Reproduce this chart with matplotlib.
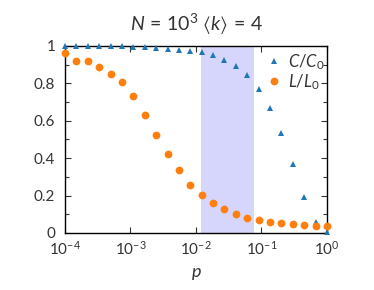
import matplotlib
matplotlib.use("Agg")
import matplotlib.pyplot as plt
import numpy as np
from matplotlib.ticker import FixedLocator, FuncFormatter, NullLocator

plt.rcParams["font.family"] = ["Lato", "DejaVu Sans"]
plt.rcParams["mathtext.fontset"] = "custom"
plt.rcParams["mathtext.rm"] = "Lato"
plt.rcParams["mathtext.it"] = "Lato:italic"
plt.rcParams["mathtext.sf"] = "Lato"
plt.rcParams["mathtext.fallback"] = "stixsans"

# 24 log-spaced values of p between 1e-4 and 1
p = np.logspace(-4, 0, 24)

# C/C0 (triangles)
c_ratio = [1.0, 1.0, 1.0, 1.0, 1.0, 1.0, 0.996, 0.995, 0.99, 0.986, 0.978, 0.974,
           0.966, 0.954, 0.927, 0.895, 0.846, 0.772, 0.667, 0.533, 0.371, 0.193,
           0.06, 0.004]
# L/L0 (circles)
l_ratio = [0.964, 0.921, 0.92, 0.888, 0.849, 0.807, 0.731, 0.631, 0.526, 0.421,
           0.337, 0.258, 0.205, 0.162, 0.127, 0.102, 0.082, 0.07, 0.057, 0.052,
           0.047, 0.042, 0.04, 0.04]

band = (0.012, 0.076)
title = r"$N\,=\,10^3\ \langle k \rangle\,=\,4$"
grey = "#333333"

fig = plt.figure(figsize=(3.74, 2.9), dpi=100)
ax = fig.add_axes([0.1738, 0.1966, 0.7005, 0.6448])

ax.axvspan(band[0], band[1], color="#0000ee", alpha=0.16, lw=0, zorder=0)
ax.plot(p, c_ratio, "^", color="#1f77b4", ms=4.4, mew=0, clip_on=False,
        zorder=3, label=r"$C/C_0$")
ax.plot(p, l_ratio, "o", color="#ff7f0e", ms=5.6, mew=0, clip_on=False,
        zorder=4, label=r"$L/L_0$")

ax.set_xscale("log")
ax.set_xlim(1e-4, 1)
ax.set_ylim(0, 1)
ax.xaxis.set_minor_locator(NullLocator())
ax.xaxis.set_major_locator(FixedLocator([1e-4, 1e-3, 1e-2, 1e-1, 1]))
ax.set_xticklabels([r"$10^{-4}$", r"$10^{-3}$", r"$10^{-2}$", r"$10^{-1}$", r"$10^{0}$"])
ax.yaxis.set_major_locator(FixedLocator([0, 0.2, 0.4, 0.6, 0.8, 1.0]))
ax.yaxis.set_minor_locator(FixedLocator([0.1, 0.3, 0.5, 0.7, 0.9]))
ax.yaxis.set_major_formatter(FuncFormatter(lambda v, _: f"{v:g}"))

ax.tick_params(which="both", direction="in", top=True, right=True,
               labelsize=11, colors=grey, length=4, width=0.8)
ax.tick_params(axis="y", pad=7)
ax.tick_params(axis="x", pad=5)
ax.tick_params(which="minor", length=3)
for s in ax.spines.values():
    s.set_linewidth(1.0)

ax.set_xlabel(r"$p$", fontsize=13, color=grey, labelpad=6)
ax.set_title(title, fontsize=14, color=grey, pad=11)

leg = ax.legend(loc="upper right", frameon=False, fontsize=12, handletextpad=0.3,
                borderaxespad=0.15, handlelength=1.0, labelspacing=0.02,
                borderpad=0.2, bbox_to_anchor=(1.012, 1.0))
for t in leg.get_texts():
    t.set_color(grey)

fig.savefig("out.png", dpi=100)
